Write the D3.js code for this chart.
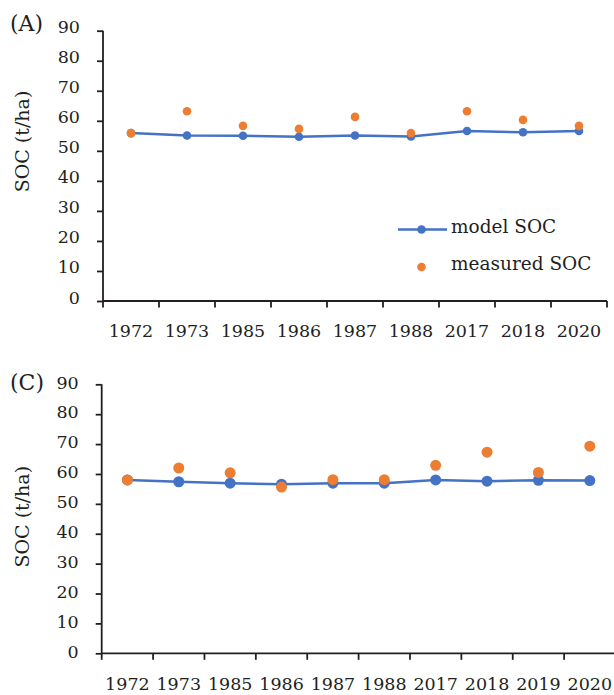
<!DOCTYPE html>
<html>
<head>
<meta charset="utf-8">
<script src="https://cdn.jsdelivr.net/npm/d3@7"></script>
<style>
  html, body { margin: 0; padding: 0; background: #fff; }
  svg { display: block; }
  text { font-family: "DejaVu Serif", serif; fill: #231f20; }
</style>
</head>
<body>
<svg id="chart" width="614" height="695"></svg>
<script>
// Panel A data
const yearsA = ['1972', '1973', '1985', '1986', '1987', '1988', '2017', '2018', '2020'];
const modelA = [55.9, 55.1, 55.0, 54.7, 55.1, 54.8, 56.6, 56.2, 56.6];
const measuredA = [55.9, 63.2, 58.3, 57.3, 61.3, 55.9, 63.2, 60.3, 58.3];

// Panel C data
const yearsC = ['1972', '1973', '1985', '1986', '1987', '1988', '2017', '2018', '2019', '2020'];
const modelC = [58.0, 57.4, 56.9, 56.6, 56.9, 56.9, 58.0, 57.6, 57.9, 57.8];
const measuredC = [58.0, 62.0, 60.4, 55.6, 58.1, 58.1, 62.9, 67.3, 60.5, 69.3];

const yTicks = [0, 10, 20, 30, 40, 50, 60, 70, 80, 90];
const legendLabels = ['model SOC', 'measured SOC'];

const BLUE = '#4472c4';
const ORANGE = '#ed7d31';
const INK = '#231f20';

const svg = d3.select('#chart');

const drawPanel = (cfg) => {
  const g = svg.append('g');

  const x = d3.scaleBand()
    .domain(cfg.years)
    .range([cfg.left, cfg.right])
    .padding(0);

  const y = d3.scaleLinear()
    .domain([0, 90])
    .range([cfg.bottom, cfg.top]);

  const cx = d => x(d) + x.bandwidth() / 2;

  // y axis
  g.append('g')
    .attr('transform', `translate(${cfg.left},0)`)
    .call(d3.axisLeft(y).tickValues(yTicks).tickSize(6).tickPadding(0))
    .call(a => a.select('.domain').attr('stroke', INK).attr('stroke-width', 1.8)
      .attr('d', `M0,${cfg.bottom}V${cfg.top}`))
    .call(a => a.selectAll('.tick line').attr('stroke', INK).attr('stroke-width', 1.8))
    .call(a => a.selectAll('.tick text')
      .attr('x', -23)
      .attr('dy', null)
      .attr('y', cfg.yLabelShift)
      .attr('fill', INK)
      .style('font-size', '17.5px')
      .style('font-family', '"DejaVu Serif", serif'));

  // x axis (ticks between categories)
  const xa = g.append('g');
  xa.append('line')
    .attr('x1', cfg.left).attr('x2', cfg.axisEnd)
    .attr('y1', cfg.bottom).attr('y2', cfg.bottom)
    .attr('stroke', INK).attr('stroke-width', 1.8);

  const edges = cfg.years.map(d => x(d)).concat([cfg.right]);
  xa.selectAll('.xtick')
    .data(edges)
    .join('line')
    .attr('class', 'xtick')
    .attr('x1', d => d).attr('x2', d => d)
    .attr('y1', cfg.bottom).attr('y2', cfg.bottom + 6.5)
    .attr('stroke', INK).attr('stroke-width', 1.8);

  xa.selectAll('.xlabel')
    .data(cfg.years)
    .join('text')
    .attr('class', 'xlabel')
    .attr('x', d => cx(d))
    .attr('y', cfg.bottom + cfg.xLabelGap)
    .attr('text-anchor', 'middle')
    .style('font-size', '17.5px')
    .text(d => d);

  // model line + markers
  const line = d3.line()
    .x((d, i) => cx(cfg.years[i]))
    .y(d => y(d));

  g.append('path')
    .datum(cfg.model)
    .attr('fill', 'none')
    .attr('stroke', BLUE)
    .attr('stroke-width', 2.5)
    .attr('d', line);

  g.selectAll('.model-dot')
    .data(cfg.model)
    .join('circle')
    .attr('class', 'model-dot')
    .attr('cx', (d, i) => cx(cfg.years[i]))
    .attr('cy', d => y(d))
    .attr('r', cfg.r)
    .attr('fill', BLUE);

  g.selectAll('.meas-dot')
    .data(cfg.measured)
    .join('circle')
    .attr('class', 'meas-dot')
    .attr('cx', (d, i) => cx(cfg.years[i]))
    .attr('cy', d => y(d))
    .attr('r', cfg.r)
    .attr('fill', ORANGE);

  // y axis title
  g.append('text')
    .attr('transform', `translate(28.5,${cfg.titleY}) rotate(-90)`)
    .attr('text-anchor', 'middle')
    .style('font-size', '19px')
    .text('SOC (t/ha)');

  // panel letter
  g.append('text')
    .attr('x', 10)
    .attr('y', cfg.letterY)
    .style('font-size', '22px')
    .text(cfg.letter);

  return { x, y };
};

drawPanel({
  years: yearsA, model: modelA, measured: measuredA,
  left: 103, right: 607, axisEnd: 607, top: 30.7, bottom: 301,
  r: 4.3, yLabelShift: 2, xLabelGap: 35.5, titleY: 141.5,
  letter: '(A)', letterY: 31
});

drawPanel({
  years: yearsC, model: modelC, measured: measuredC,
  left: 101.7, right: 615.5, axisEnd: 614, top: 384.3, bottom: 653.3,
  r: 5.5, yLabelShift: 3.7, xLabelGap: 37, titleY: 516.7,
  letter: '(C)', letterY: 389.5
});

// legend (panel A)
const legend = svg.append('g');
legend.append('line')
  .attr('x1', 398).attr('x2', 447)
  .attr('y1', 229.5).attr('y2', 229.5)
  .attr('stroke', BLUE).attr('stroke-width', 2.5);
legend.append('circle')
  .attr('cx', 421.5).attr('cy', 229.5).attr('r', 4.3).attr('fill', BLUE);
legend.append('circle')
  .attr('cx', 421.5).attr('cy', 267).attr('r', 4.3).attr('fill', ORANGE);
legend.selectAll('.leg-text')
  .data(legendLabels)
  .join('text')
  .attr('class', 'leg-text')
  .attr('x', 451)
  .attr('y', (d, i) => i === 0 ? 233 : 270)
  .style('font-size', '18.5px')
  .text(d => d);
</script>
</body>
</html>
